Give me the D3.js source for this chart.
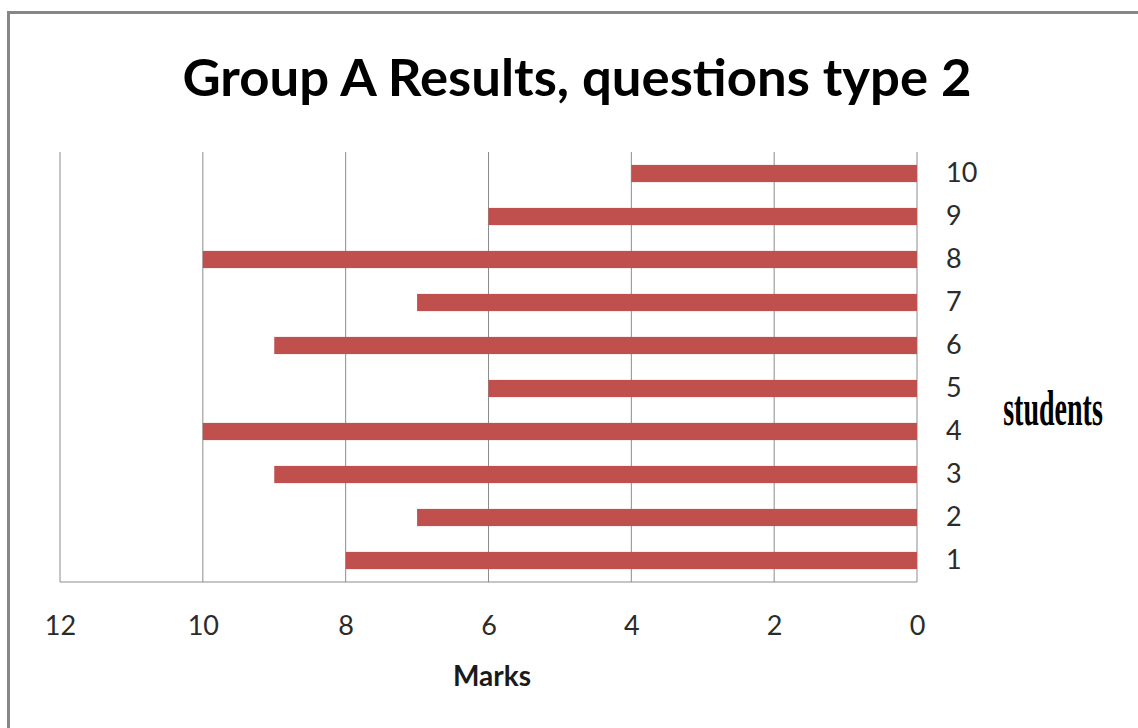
<!DOCTYPE html>
<html>
<head>
<meta charset="utf-8">
<script src="https://cdn.jsdelivr.net/npm/d3@7"></script>
<style>
  body { margin: 0; background: #fff; }
  svg { display: block; }
</style>
</head>
<body>
<div id="chart"></div>
<script>
// Data
const students = [1, 2, 3, 4, 5, 6, 7, 8, 9, 10];
const marks = [8, 7, 9, 10, 6, 9, 7, 10, 6, 4];
const xTicks = [0, 2, 4, 6, 8, 10, 12];

const width = 1138, height = 728;
const margin = { top: 152, right: 221, bottom: 146, left: 60 };

const svg = d3.select("#chart")
  .append("svg")
  .attr("width", width)
  .attr("height", height);

// Frame
svg.append("rect")
  .attr("x", 8.5).attr("y", 12.5)
  .attr("width", 1140).attr("height", 740)
  .attr("fill", "none")
  .attr("stroke", "#878787")
  .attr("stroke-width", 3);

// Scales (reversed x axis, students from bottom up)
const x = d3.scaleLinear()
  .domain([12, 0])
  .range([margin.left, width - margin.right]);
const y = d3.scaleBand()
  .domain(students.slice().reverse())
  .range([margin.top, height - margin.bottom])
  .paddingInner(0.6)
  .paddingOuter(0.3);

// Gridlines
svg.append("g")
  .selectAll("line")
  .data(xTicks)
  .join("line")
  .attr("x1", d => x(d)).attr("x2", d => x(d))
  .attr("y1", margin.top).attr("y2", height - margin.bottom)
  .attr("stroke", "#8c8c8c")
  .attr("stroke-width", 1);

// Bottom axis line
svg.append("line")
  .attr("x1", x(12)).attr("x2", x(0))
  .attr("y1", height - margin.bottom).attr("y2", height - margin.bottom)
  .attr("stroke", "#8c8c8c");

// Bars
svg.append("g")
  .selectAll("rect")
  .data(students)
  .join("rect")
  .attr("x", (d, i) => x(marks[i]))
  .attr("y", d => y(d))
  .attr("width", (d, i) => x(0) - x(marks[i]))
  .attr("height", y.bandwidth())
  .attr("fill", "#c0504d");

// X axis labels
const xAxis = svg.append("g")
  .attr("transform", `translate(0,${height - margin.bottom})`)
  .call(d3.axisBottom(x).tickValues(xTicks).tickSize(0).tickPadding(34));
xAxis.select(".domain").remove();
xAxis.selectAll("text")
  .attr("font-family", "Lato, sans-serif")
  .attr("font-size", 27)
  .attr("fill", "#2b2b2b");

// Y axis labels on the right
const yAxis = svg.append("g")
  .attr("transform", `translate(${x(0)},0)`)
  .call(d3.axisRight(y).tickSize(0).tickPadding(29));
yAxis.select(".domain").remove();
yAxis.selectAll("text")
  .attr("font-family", "Lato, sans-serif")
  .attr("font-size", 27)
  .attr("fill", "#2b2b2b");

// Title
svg.append("text")
  .attr("x", 577).attr("y", 96)
  .attr("text-anchor", "middle")
  .attr("font-family", "Lato, sans-serif")
  .attr("font-weight", "bold")
  .attr("font-size", 51)
  .attr("textLength", 789)
  .attr("lengthAdjust", "spacingAndGlyphs")
  .attr("fill", "#000")
  .text("Group A Results, questions type 2");

// Axis titles
svg.append("text")
  .attr("x", 492).attr("y", 686)
  .attr("text-anchor", "middle")
  .attr("font-family", "Lato, sans-serif")
  .attr("font-weight", "bold")
  .attr("font-size", 28)
  .attr("fill", "#1a1a1a")
  .text("Marks");

svg.append("text")
  .attr("transform", "translate(1053,425) scale(0.56,1)")
  .attr("text-anchor", "middle")
  .attr("font-family", "'Liberation Serif', serif")
  .attr("font-weight", "bold")
  .attr("font-size", 50)
  .attr("fill", "#000")
  .text("students");
</script>
</body>
</html>
